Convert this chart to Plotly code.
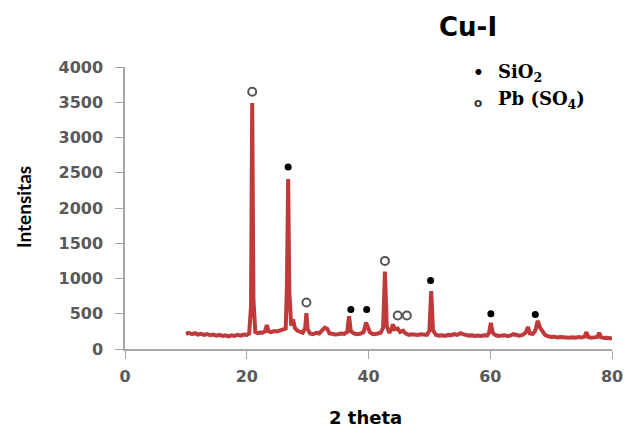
import plotly.graph_objects as go

# XRD pattern (2 theta, intensity)
two_theta = [10.0, 10.5, 11.0, 11.5, 12.0, 12.5, 13.0, 13.5, 14.0, 14.5, 15.0, 15.5, 16.0, 16.5, 17.0, 17.5,
             18.0, 18.5, 19.0, 19.5, 20.0, 20.4, 20.7, 20.9, 21.1, 21.4, 21.8, 22.2, 22.6, 23.0, 23.3, 23.6,
             24.0, 24.5, 25.0, 25.5, 26.0, 26.4, 26.6, 26.8, 27.0, 27.3, 27.6, 27.9, 28.3, 28.7, 29.2, 29.6,
             29.8, 30.0, 30.4, 30.9, 31.4, 31.9, 32.4, 32.8, 33.2, 33.6, 34.0, 34.5, 35.0, 35.5, 36.0, 36.5,
             36.8, 37.1, 37.6, 38.1, 38.6, 39.2, 39.6, 39.9, 40.2, 40.6, 41.0, 41.5, 42.0, 42.4, 42.7, 43.0,
             43.4, 43.8, 44.0, 44.3, 44.8, 45.2, 45.7, 46.1, 46.6, 47.1, 47.6, 48.1, 48.6, 49.1, 49.6, 50.0,
             50.3, 50.6, 51.1, 51.6, 52.1, 52.6, 53.1, 53.6, 54.1, 54.6, 55.1, 55.5, 56.0, 56.5, 57.0, 57.5,
             58.0, 58.5, 59.0, 59.5, 59.8, 60.1, 60.4, 60.8, 61.3, 61.8, 62.3, 62.8, 63.3, 63.8, 64.3, 64.8,
             65.3, 65.8, 66.2, 66.5, 67.0, 67.4, 67.8, 68.2, 68.6, 69.0, 69.5, 70.0, 70.5, 71.0, 71.5, 72.0,
             72.5, 73.0, 73.5, 74.0, 74.5, 75.0, 75.5, 75.8, 76.1, 76.6, 77.1, 77.6, 77.9, 78.2, 78.7, 79.2,
             79.7, 80.0]
intensity = [215, 230, 210, 225, 205, 215, 200, 212, 195, 205, 190, 200, 185, 195, 180, 195,
             185, 200, 190, 205, 200, 220, 600, 3490, 700, 240, 225, 235, 230, 250, 340, 250,
             240, 255, 250, 265, 270, 290, 900, 2410, 800, 330, 420, 300, 260, 240, 230, 300,
             510, 280, 220, 210, 230, 220, 260, 300, 290, 220, 215, 205, 210, 220, 215, 240,
             465, 250, 220, 210, 215, 240, 375, 300, 240, 215, 210, 220, 230, 300, 1100, 330,
             230, 280, 350, 280, 290, 240, 260, 220, 200, 210, 205, 200, 210, 205, 200, 260,
             820, 260, 200, 190, 195, 185, 200, 195, 210, 200, 225, 210, 195, 190, 195, 185,
             190, 185, 195, 190, 230, 370, 230, 200, 185, 190, 195, 185, 190, 210, 195, 190,
             200, 230, 310, 220, 215, 260, 400, 300, 250, 200, 180, 170, 175, 165, 170, 165,
             170, 160, 165, 160, 170, 165, 175, 240, 170, 160, 165, 170, 230, 165, 155, 160,
             150, 160]

# phase markers
sio2_x = [26.8, 37.1, 39.7, 50.2, 60.1, 67.4]
sio2_y = [2580, 560, 560, 970, 500, 490]
pbso4_x = [20.9, 29.8, 42.7, 44.8, 46.3]
pbso4_y = [3650, 660, 1250, 475, 475]

x_ticks = [0, 20, 40, 60, 80]
y_ticks = [0, 500, 1000, 1500, 2000, 2500, 3000, 3500, 4000]

fig = go.Figure()
fig.add_trace(go.Scatter(x=two_theta, y=intensity, mode="lines",
                         line=dict(color="#C0393B", width=4), hoverinfo="skip"))
fig.add_trace(go.Scatter(x=sio2_x, y=sio2_y, mode="markers",
                         marker=dict(color="black", size=7, symbol="circle")))
fig.add_trace(go.Scatter(x=pbso4_x, y=pbso4_y, mode="markers",
                         marker=dict(color="white", size=8, symbol="circle",
                                     line=dict(color="#555555", width=2))))

tickfont = dict(family="DejaVu Sans", size=16, color="#595959", weight="bold")
fig.update_layout(
    width=636, height=431,
    margin=dict(l=117, r=32, t=59, b=90),
    paper_bgcolor="white", plot_bgcolor="white",
    showlegend=False,
    xaxis=dict(range=[0, 80], tickvals=x_ticks, showgrid=False, zeroline=False,
               showline=True, linecolor="#A6A6A6", linewidth=1.5,
               ticks="outside", ticklen=8, tickcolor="#A6A6A6", tickfont=tickfont,
               ticklabelstandoff=4),
    yaxis=dict(range=[0, 4000], tickvals=y_ticks, showgrid=False, zeroline=False,
               showline=True, linecolor="#A6A6A6", linewidth=1.5,
               ticks="outside", ticklen=8, tickcolor="#A6A6A6", tickfont=tickfont,
               ticklabelstandoff=9),
)

# positions given in screen px of the reference, converted to paper coords of plot area (125..612, 67..349)
def px(x):
    return (x - 125) / 487

def py(y):
    return (349 - y) / 282

def note(text, x, y, font, xanchor="center", **kw):
    return dict(text=text, x=px(x), y=py(y), xref="paper", yref="paper",
                xanchor=xanchor, yanchor="middle", showarrow=False, font=font, **kw)

annotations = [
    note("<b>Cu-I</b>", 468, 27, dict(family="DejaVu Sans", size=26, color="black")),
    note("Intensitas", 23, 207, dict(family="Lato", size=19, color="black", weight="bold"), textangle=-90),
    note("<b>2 theta</b>", 365, 417, dict(family="DejaVu Sans", size=18, color="black")),
    note("<b>•</b>", 478, 72, dict(family="DejaVu Serif", size=17, color="black")),
    note("<b>SiO<sub>2</sub></b>", 496, 73, dict(family="DejaVu Serif", size=18, color="black"), xanchor="left"),
    note("<b>o</b>", 478, 103, dict(family="DejaVu Sans", size=12, color="#333333")),
    note("<b>Pb (SO<sub>4</sub>)</b>", 496, 100, dict(family="DejaVu Serif", size=18, color="black"), xanchor="left"),
]
fig.update_layout(annotations=annotations)

fig.write_html("out.html")
